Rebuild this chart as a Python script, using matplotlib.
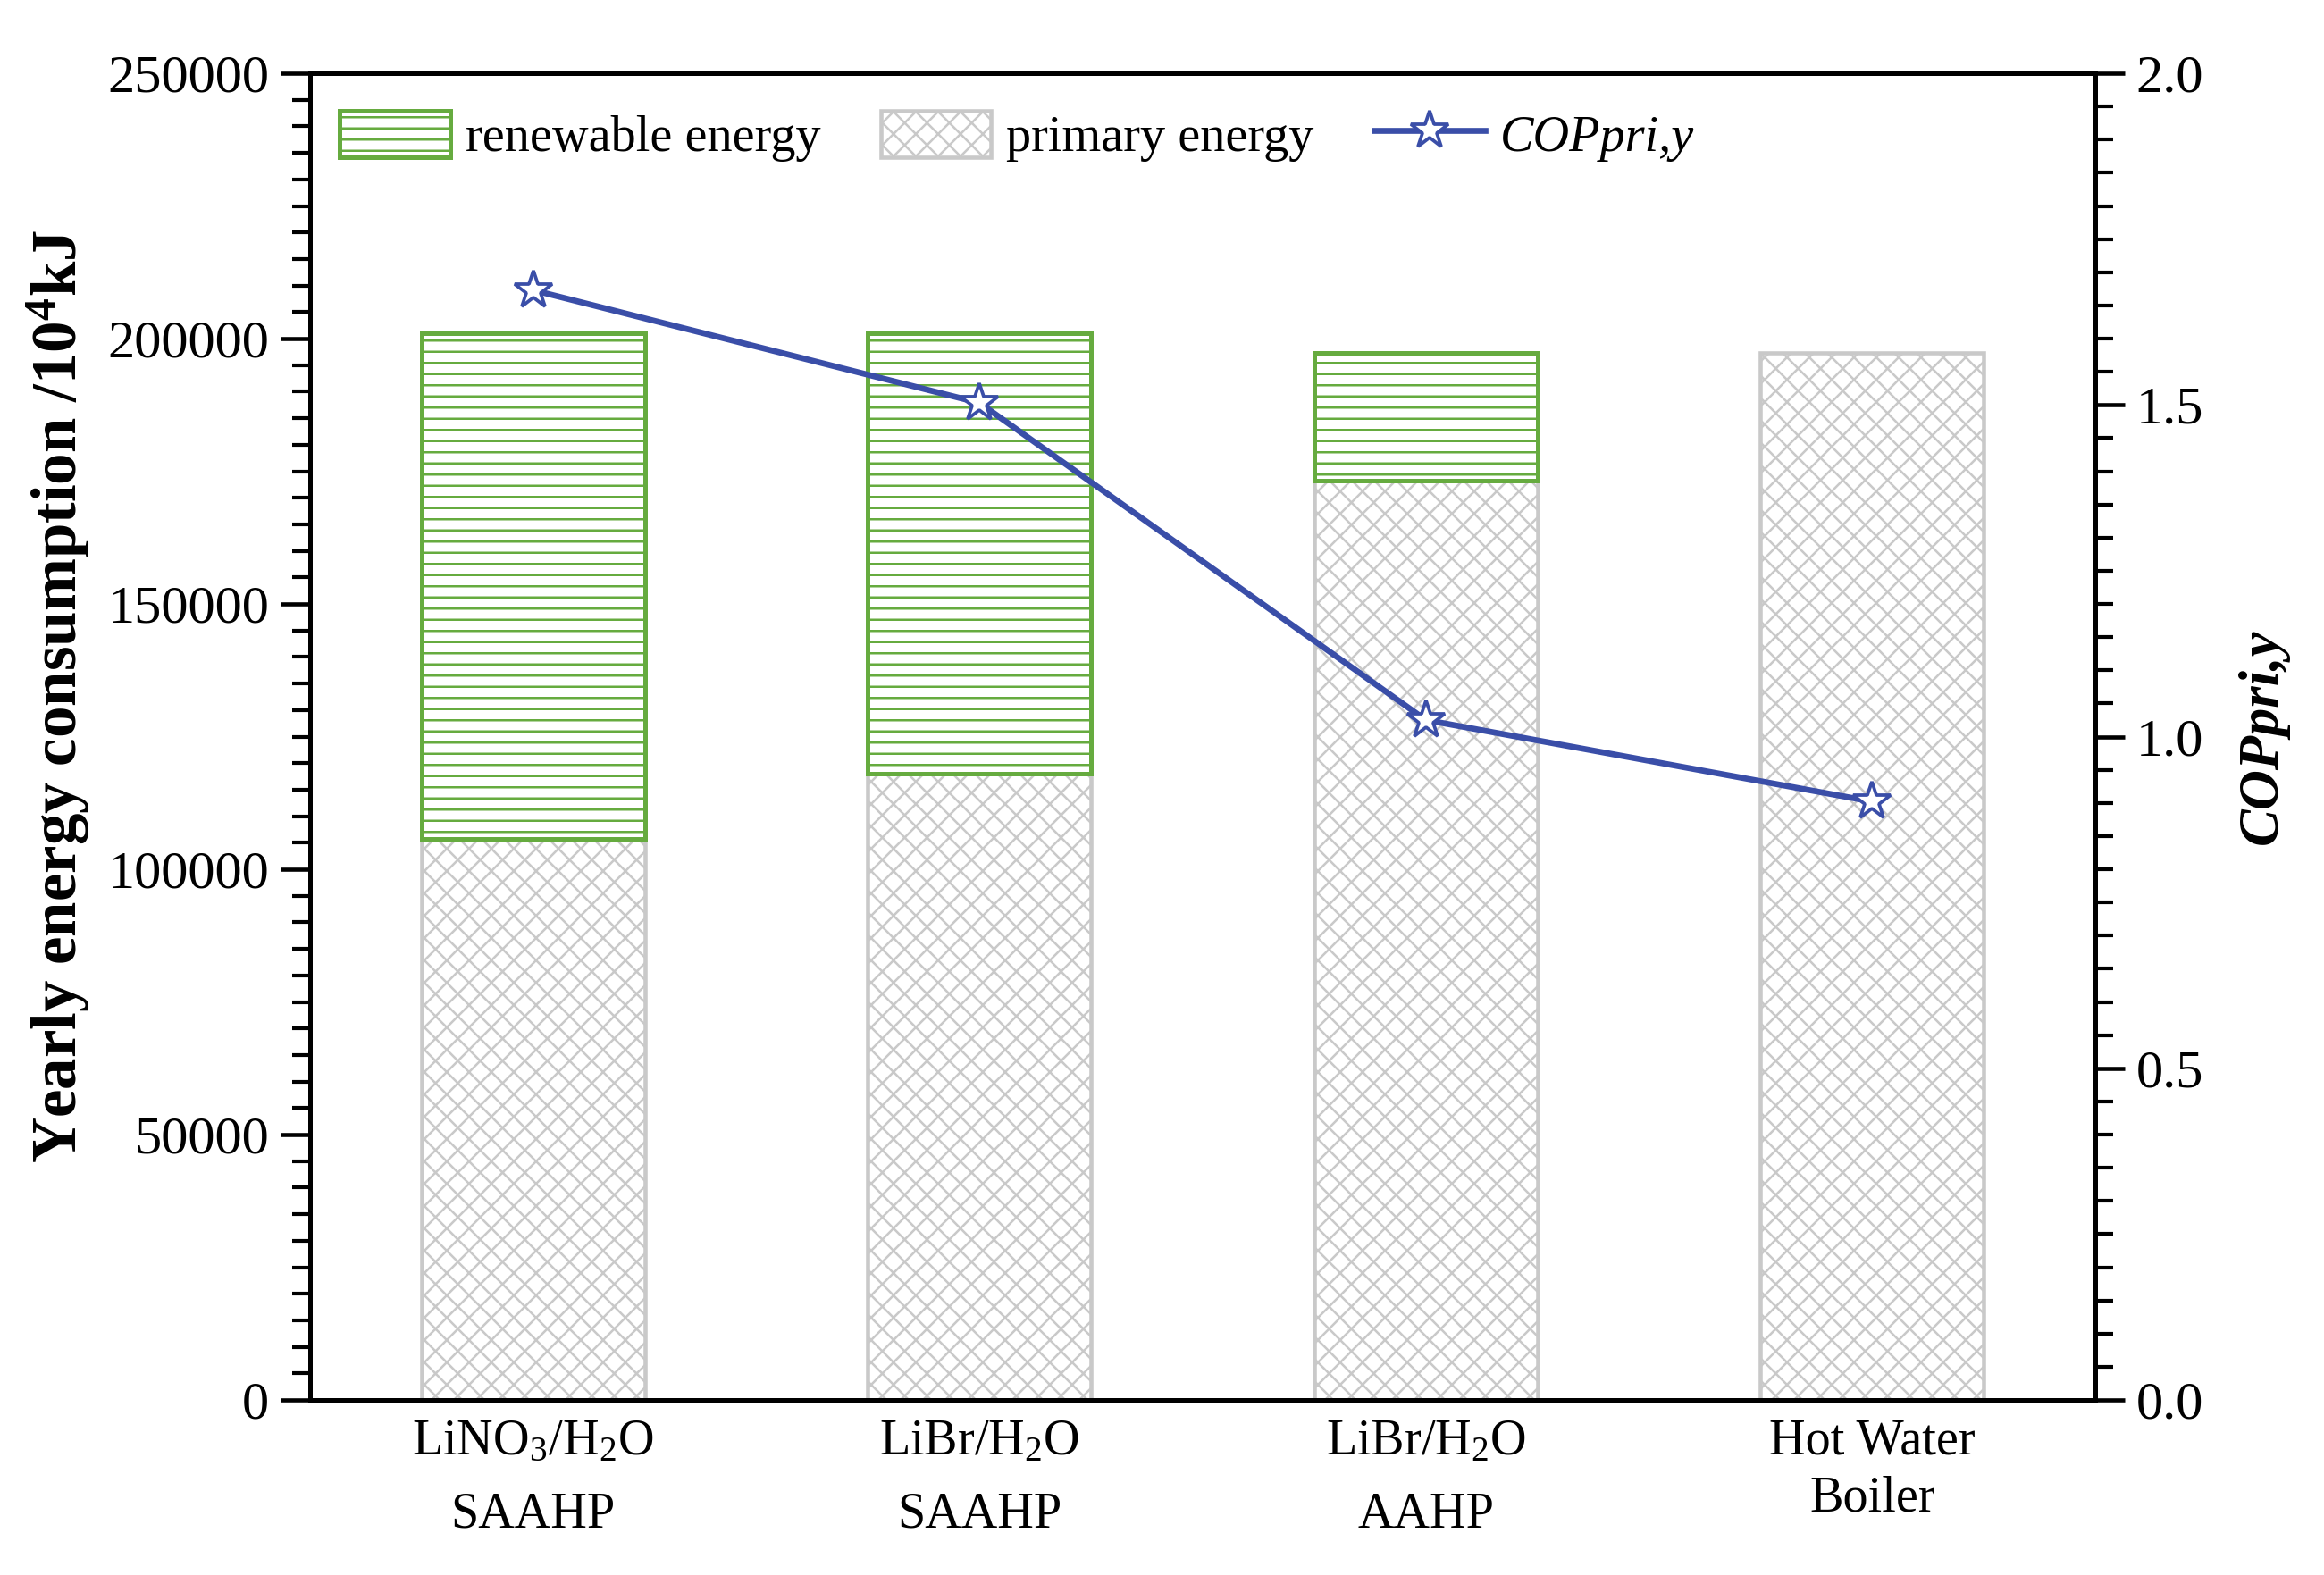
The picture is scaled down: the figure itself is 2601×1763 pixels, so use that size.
import matplotlib
matplotlib.use("Agg")
import matplotlib.pyplot as plt
import numpy as np
from matplotlib.ticker import MultipleLocator

# ---- data ----
categories = ["LiNO$_3$/H$_2$O\nSAAHP", "LiBr/H$_2$O\nSAAHP", "LiBr/H$_2$O\nAAHP", "Hot Water\nBoiler"]
primary_energy = [105700, 118000, 173200, 197300]
renewable_energy = [95300, 83000, 24100, 0]
cop_pri_y = [1.673, 1.503, 1.025, 0.902]

plt.rcParams['font.family'] = ['Liberation Serif', 'DejaVu Serif']
plt.rcParams['mathtext.fontset'] = 'custom'
plt.rcParams['mathtext.rm'] = 'Liberation Serif'
plt.rcParams['mathtext.it'] = 'Liberation Serif:italic'
plt.rcParams['mathtext.bf'] = 'Liberation Serif:bold'
plt.rcParams['hatch.linewidth'] = 1.2

green = '#66ab3f'
gray = '#c9c9c9'
blue = '#3a4ea8'

fig = plt.figure(figsize=(2601/150, 1763/150), dpi=150)
ax = fig.add_axes([347/2601, 1 - 1567/1763, (2345-347)/2601, (1567-82)/1763])
ax2 = ax.twinx()

x = np.arange(len(categories))
width = 0.5
b1 = ax.bar(x, primary_energy, width, color='white', edgecolor=gray, hatch='xx',
            linewidth=2.2, label='primary energy', zorder=2)
idx = [i for i, v in enumerate(renewable_energy) if v > 0]
b2 = ax.bar(x[idx], [renewable_energy[i] for i in idx], width,
            bottom=[primary_energy[i] for i in idx], color='white', edgecolor=green,
            hatch='--', linewidth=2.4, label='renewable energy', zorder=3)

ln, = ax2.plot(x, cop_pri_y, color=blue, linewidth=3.2, marker='*', markersize=21,
               markerfacecolor='white', markeredgecolor=blue, markeredgewidth=1.8,
               label='COPpri,y', zorder=5)

ax.set_xlim(-0.5, 3.5)
ax.set_ylim(0, 250000)
ax2.set_ylim(0, 2.0)

ax.yaxis.set_major_locator(MultipleLocator(50000))
ax.yaxis.set_minor_locator(MultipleLocator(5000))
ax2.yaxis.set_major_locator(MultipleLocator(0.5))
ax2.yaxis.set_minor_locator(MultipleLocator(0.05))
ax2.yaxis.set_major_formatter(matplotlib.ticker.FormatStrFormatter('%.1f'))

ax.set_xticks(x)
ax.set_xticklabels(categories, fontsize=27)
for t in ax.get_xticklabels():
    t.set_linespacing(1.75)
ax.get_xticklabels()[3].set_linespacing(1.3)
ax.tick_params(axis='x', length=0, pad=10)

for a in (ax, ax2):
    for s in a.spines.values():
        s.set_linewidth(2.4)
ax.tick_params(axis='y', which='major', direction='out', length=16, width=2.2, labelsize=29, pad=6)
ax.tick_params(axis='y', which='minor', direction='out', length=9.5, width=2.0)
ax2.tick_params(axis='y', which='major', direction='out', length=16, width=2.2, labelsize=29, pad=6)
ax2.tick_params(axis='y', which='minor', direction='out', length=9.5, width=2.0)

ax.set_ylabel(r"Yearly energy consumption /10$^{\mathbf{4}}$kJ", fontsize=34, fontweight='bold')
ax.yaxis.set_label_coords(-0.122, 0.53)
ax2.set_ylabel("COPpri,y", fontsize=30, fontweight='bold', fontstyle='italic', labelpad=18)

leg = ax.legend([b2, b1, ln], ['renewable energy', 'primary energy', 'COPpri,y'],
                loc='upper left', bbox_to_anchor=(0.0165, 0.972), ncol=3, frameon=False,
                fontsize=27, handlelength=2.2, handleheight=1.05, handletextpad=0.3,
                columnspacing=1.2, borderpad=0, borderaxespad=0)
leg.get_texts()[2].set_fontstyle('italic')

fig.savefig('out.png', dpi=150)
